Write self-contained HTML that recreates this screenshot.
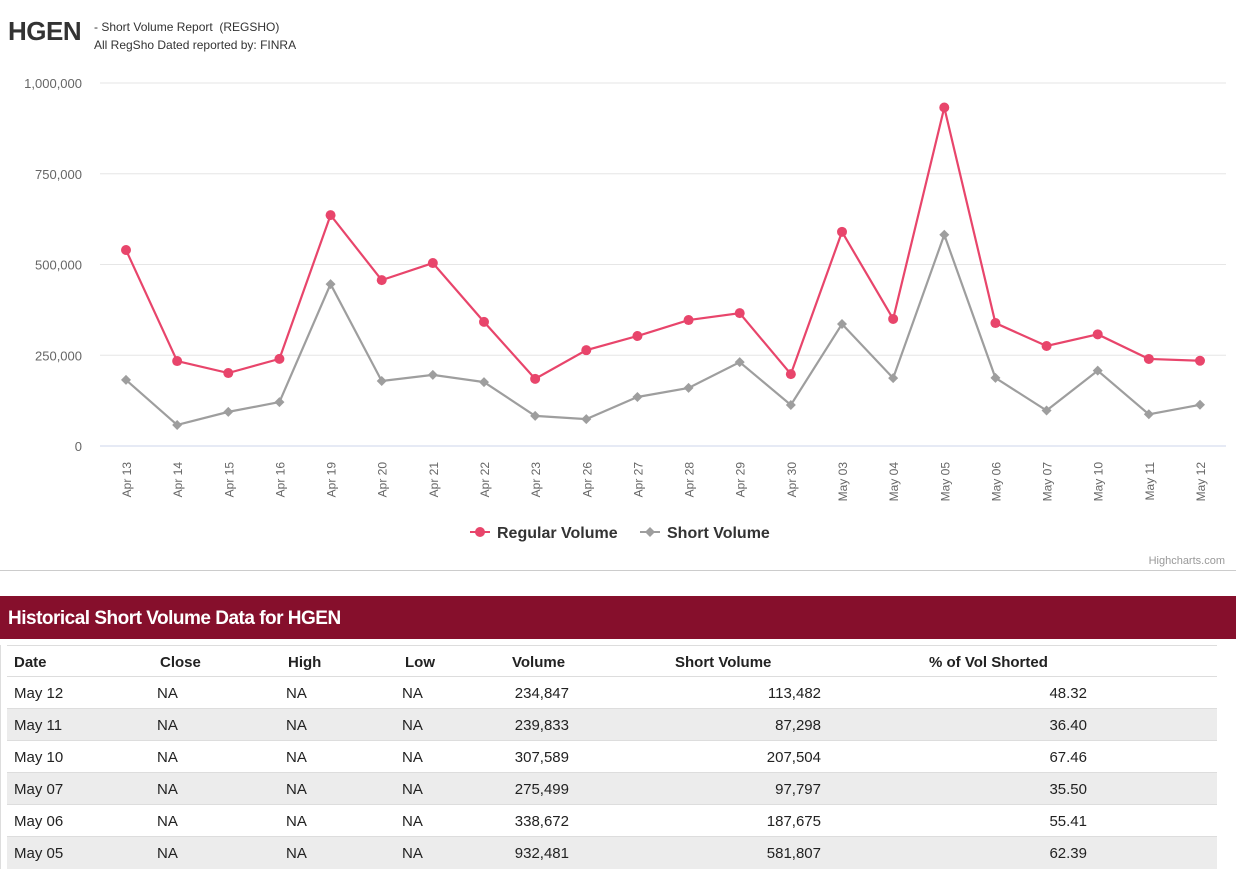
<!DOCTYPE html>
<html><head><meta charset="utf-8"><style>
body{margin:0;width:1236px;height:869px;background:#fff;font-family:"Liberation Sans",sans-serif;overflow:hidden;position:relative}
.abs{position:absolute}
.row{position:absolute;left:6px;width:1210px;height:32px;border-top:1px solid #ddd;font-size:15px;color:#222}
.row span{position:absolute;top:8px}
</style></head><body>
<div class="abs" style="left:8px;top:16px;font-size:26px;font-weight:bold;color:#333;letter-spacing:-0.5px">HGEN</div>
<div class="abs" style="left:94px;top:18px;font-size:12px;color:#333;line-height:18px">- Short Volume Report&nbsp;&nbsp;(REGSHO)<br>All RegSho Dated reported by: FINRA</div>
<svg class="abs" style="left:0;top:0" width="1236" height="575" id="chart"></svg>
<div class="abs" style="left:0;top:570px;width:1236px;height:1px;background:#ccc"></div>
<div class="abs" style="left:0;top:596px;width:1236px;height:43px;background:#860f2c;color:#fff;font-size:19px;letter-spacing:-0.5px;font-weight:bold;line-height:45px;padding-left:8px;box-sizing:border-box">Historical Short Volume Data for HGEN</div>
<div class="abs" id="tbl" style="left:0;top:645px;width:1236px;height:224px;border-left:1px solid #ddd"></div>
<script>
const dates=["Apr 13","Apr 14","Apr 15","Apr 16","Apr 19","Apr 20","Apr 21","Apr 22","Apr 23","Apr 26","Apr 27","Apr 28","Apr 29","Apr 30","May 03","May 04","May 05","May 06","May 07","May 10","May 11","May 12"];
const regular=[540000,234000,201000,240000,636000,457000,504000,342000,185000,264000,303000,347000,366000,198000,590000,350000,932481,338672,275499,307589,239833,234847];
const shortVol=[182000,58000,94000,121000,446000,179000,196000,176000,83000,74000,135000,160000,231000,113000,336000,187000,581807,187675,97797,207504,87298,113482];
const yTicks=[0,250000,500000,750000,1000000];
const NS="http://www.w3.org/2000/svg",svg=document.getElementById('chart');
const X=i=>126+i*(1200-126)/(dates.length-1), Y=v=>446-v/1e6*363;
function el(t,a,p){const e=document.createElementNS(NS,t);for(const k in a)e.setAttribute(k,a[k]);(p||svg).appendChild(e);return e;}
yTicks.forEach(v=>{const g=el('line',{x1:100,x2:1226,y1:Y(v),y2:Y(v),stroke:v?'#e6e6e6':'#ccd6eb'});


const t=el('text',{x:82,y:Y(v)+5,'text-anchor':'end','font-size':13,fill:'#666'});t.textContent=v.toLocaleString('en-US');

});
dates.forEach((d,i)=>{const t=el('text',{transform:`translate(${X(i)+5},462) rotate(-90)`,'text-anchor':'end','font-size':12,fill:'#666'});t.textContent=d;

});
function series(vals,col,diamond,name){
const p=el('polyline',{points:vals.map((v,i)=>X(i)+','+Y(v)).join(' '),fill:'none',stroke:col,'stroke-width':2.2});


vals.forEach((v,i)=>{const m=diamond?el('path',{d:`M${X(i)},${Y(v)-5}l5,5l-5,5l-5,-5z`,fill:col}):el('circle',{cx:X(i),cy:Y(v),r:5,fill:col});

});}
series(shortVol,'#9e9e9e',true,'short-volume');
series(regular,'#e8456b',false,'regular-volume');
const l1=el('g',{});
el('line',{x1:470,x2:490,y1:532,y2:532,stroke:'#e8456b','stroke-width':2},l1);el('circle',{cx:480,cy:532,r:5,fill:'#e8456b'},l1);
let t=el('text',{x:497,y:538,'font-size':16,'font-weight':'bold',fill:'#333'},l1);t.textContent='Regular Volume';
const l2=el('g',{});
el('line',{x1:640,x2:660,y1:532,y2:532,stroke:'#9e9e9e','stroke-width':2},l2);el('path',{d:'M650,527l5,5l-5,5l-5,-5z',fill:'#9e9e9e'},l2);
t=el('text',{x:667,y:538,'font-size':16,'font-weight':'bold',fill:'#333'},l2);t.textContent='Short Volume';
t=el('text',{x:1225,y:564,'text-anchor':'end','font-size':11,fill:'#999'});t.textContent='Highcharts.com';

const rows=[["May 12","234,847","113,482","48.32"],["May 11","239,833","87,298","36.40"],["May 10","307,589","207,504","67.46"],["May 07","275,499","97,797","35.50"],["May 06","338,672","187,675","55.41"],["May 05","932,481","581,807","62.39"]];
const tb=document.getElementById('tbl');
let h=document.createElement('div');h.className='row';h.style.top='0px';h.style.fontWeight='bold';

h.innerHTML='<span style="left:7px">Date</span><span style="left:153px">Close</span><span style="left:281px">High</span><span style="left:398px">Low</span><span style="left:505px">Volume</span><span style="left:668px">Short Volume</span><span style="left:922px">% of Vol Shorted</span>';
tb.appendChild(h);
rows.forEach((r,i)=>{const d=document.createElement('div');d.className='row';d.style.top=(31+i*32)+'px';d.style.background=i%2?'#ececec':'#fff';


d.innerHTML=`<span style="left:7px">${r[0]}</span><span style="left:150px">NA</span><span style="left:279px">NA</span><span style="left:395px">NA</span><span style="right:648px">${r[1]}</span><span style="right:396px">${r[2]}</span><span style="right:130px">${r[3]}</span>`;
tb.appendChild(d);});
</script>
</body></html>
